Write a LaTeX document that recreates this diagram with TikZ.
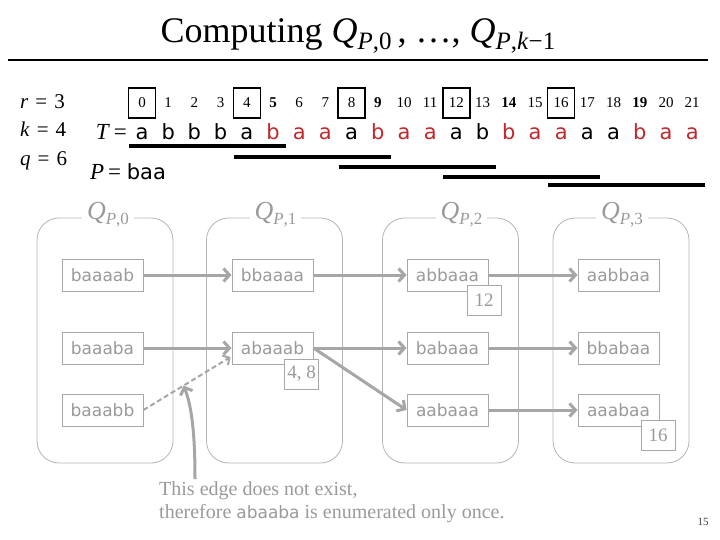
\documentclass[tikz,border=0pt]{standalone}
\usepackage{fontspec}
\setmainfont{Liberation Serif}
\newfontfamily\vsans{DejaVu Sans}
\usetikzlibrary{arrows.meta,calc}
\definecolor{grpgray}{HTML}{B4B4B4}
\definecolor{boxgray}{HTML}{A8A8A8}
\definecolor{txtgray}{HTML}{9A9A9A}
\definecolor{arrgray}{HTML}{A6A6A6}
\definecolor{tred}{HTML}{C0282D}
\newcommand\fs[1]{\fontsize{#1}{#1}\selectfont}
\newcommand\QQ[2]{\textit{Q}\raisebox{-0.45ex}{\fs{#1}\textit{P},#2}}
\begin{document}
\begin{tikzpicture}[x=1pt,y=-1pt,
  grp/.style={draw=grpgray, line width=0.8pt, rounded corners=22pt, minimum width=136pt, minimum height=245pt, inner sep=0pt},
  grptitle/.style={fill=white, text=txtgray, font=\fs{26}, inner sep=5pt},
  str/.style={draw=boxgray, line width=0.9pt, text=txtgray, font=\vsans\fs{17}, minimum width=81pt, minimum height=32pt, inner sep=0pt},
  lab/.style={draw=boxgray, line width=0.9pt, fill=white, text=txtgray, font=\fs{19}, minimum height=30pt, minimum width=34pt, inner sep=3pt},
  conn/.style={draw=arrgray, line width=3pt, -{Straight Barb[length=6pt,width=13pt]}},
  dconn/.style={draw=arrgray, line width=2pt, dash pattern=on 5pt off 3pt, -{Straight Barb[length=5pt,width=11pt]}},
  annot/.style={draw=arrgray, line width=3pt, -{Straight Barb[length=6pt,width=13pt]}},
  idx/.style={font=\fs{15}, minimum width=27pt, minimum height=30pt, text height=10pt, text depth=0pt, inner sep=0pt},
  idxb/.style={idx, draw=black, line width=1.3pt},
  tl/.style={font=\vsans\fs{21}, anchor=base, inner sep=0pt},
  uline/.style={line width=3.5pt, draw=black},
  lbl/.style={font=\fs{21}, anchor=base west, inner sep=0pt}
]
\useasboundingbox (0,0) rectangle (720,540);

% title
\node[font=\fs{36}, inner sep=0pt] (title) at (358,36) {Computing \QQ{25}{0}\,, \ldots, \QQ{25}{\textit{k}−1}};
\draw[line width=1.6pt] (8,60) -- (708,60);

% parameters
\node[lbl] (lr) at (20,109) {\textit{r}\,\,=\,\,3};
\node[lbl] (lk) at (20,137) {\textit{k}\,\,=\,\,4};
\node[lbl] (lq) at (20,166) {\textit{q}\,\,=\,\,6};

% indices
\foreach \i/\s/\t in {0/idxb/0,1/idx/1,2/idx/2,3/idx/3,4/idxb/4,5/idx/\textbf{5},6/idx/6,7/idx/7,8/idxb/8,9/idx/\textbf{9},10/idx/10,11/idx/11,12/idxb/12,13/idx/13,14/idx/\textbf{14},15/idx/15,16/idxb/16,17/idx/17,18/idx/18,19/idx/\textbf{19},20/idx/20,21/idx/21}
  \node[\s] (i\i) at ({142+26.2*\i},103) {\t};

% text T
\node[font=\fs{23}, anchor=base east, inner sep=0pt] (tlab) at (127,140) {\textit{T}\,=};
\foreach \i/\c/\col in {0/a/black,1/b/black,2/b/black,3/b/black,4/a/black,5/b/tred,6/a/tred,7/a/tred,8/a/black,9/b/tred,10/a/tred,11/a/tred,12/a/black,13/b/black,14/b/tred,15/a/tred,16/a/tred,17/a/black,18/a/black,19/b/tred,20/a/tred,21/a/tred}
  \node[tl, text=\col] (t\i) at ({142+26.2*\i},140) {\c};

% windows
\foreach \s/\y in {0/146,4/157,8/167,12/177,16/185}
  \draw[uline] ({142+26.2*\s-13},\y) -- ({142+26.2*(\s+5)+13},\y);

% pattern
\node[anchor=base west, inner sep=0pt, font=\fs{23}] (plab) at (90,180) {\textit{P}\,= {\vsans\fs{21}baa}};

% groups
\node[grp] (g0) at (105,340.5) {};
\node[grp] (g1) at (274.5,340.5) {};
\node[grp] (g2) at (450.5,340.5) {};
\node[grp] (g3) at (621,340.5) {};
\node[grptitle] (q0) at ($(g0.north)+(3,-3)$) {\QQ{17}{0}};
\node[grptitle] (q1) at ($(g1.north)+(1,-3)$) {\QQ{17}{1}};
\node[grptitle] (q2) at ($(g2.north)+(11,-3)$) {\QQ{17}{2}};
\node[grptitle] (q3) at ($(g3.north)+(1,-3)$) {\QQ{17}{3}};

% strings
\node[str] (b00) at (102.5,275) {baaaab};
\node[str] (b01) at (102.5,348) {baaaba};
\node[str] (b02) at (102.5,410) {baaabb};
\node[str] (b10) at (272.5,275) {bbaaaa};
\node[str] (b11) at (272.5,348) {abaaab};
\node[str] (b20) at (447.5,275) {abbaaa};
\node[str] (b21) at (447.5,348) {babaaa};
\node[str] (b22) at (447.5,410) {aabaaa};
\node[str] (b30) at (618.5,275) {aabbaa};
\node[str] (b31) at (618.5,348) {bbabaa};
\node[str] (b32) at (618.5,410) {aaabaa};

% occurrence labels
\node[lab] (l12) at (484,300) {12};
\node[lab] (l48) at (301.5,374) {4, 8};
\node[lab] (l16) at (658,435) {16};

% edges
\draw[conn] (b00) -- (b10);
\draw[conn] (b10) -- (b20);
\draw[conn] (b20) -- (b30);
\draw[conn] (b01) -- (b11);
\draw[conn] (b11) -- (b21);
\draw[conn] (b11.east) -- (b22.west);
\draw[conn] (b21) -- (b31);
\draw[conn] (b22) -- (b32);
\coordinate (dtip) at ($(b11.west)+(-1,9)$);
\draw[dconn] (b02.east) -- (dtip);

% annotation
\node[anchor=north west, align=left, text=txtgray, font=\fs{20}, inner sep=0pt] (note) at (159,481)
  {This edge does not exist,\\[3pt] therefore {\vsans\fs{17}abaaba} is enumerated only once.};
\coordinate (ann) at ($(b02.east)!0.46!(dtip)$);
\coordinate (annstart) at ($(note.north west)+(36,-2)$);
\draw[annot] (annstart) .. controls +(0,-40) and +(9,22) .. (ann);

% page number
\node[font=\fs{11}, text=black!75, inner sep=0pt] (pg) at (703,522) {15};
\end{tikzpicture}
\end{document}
